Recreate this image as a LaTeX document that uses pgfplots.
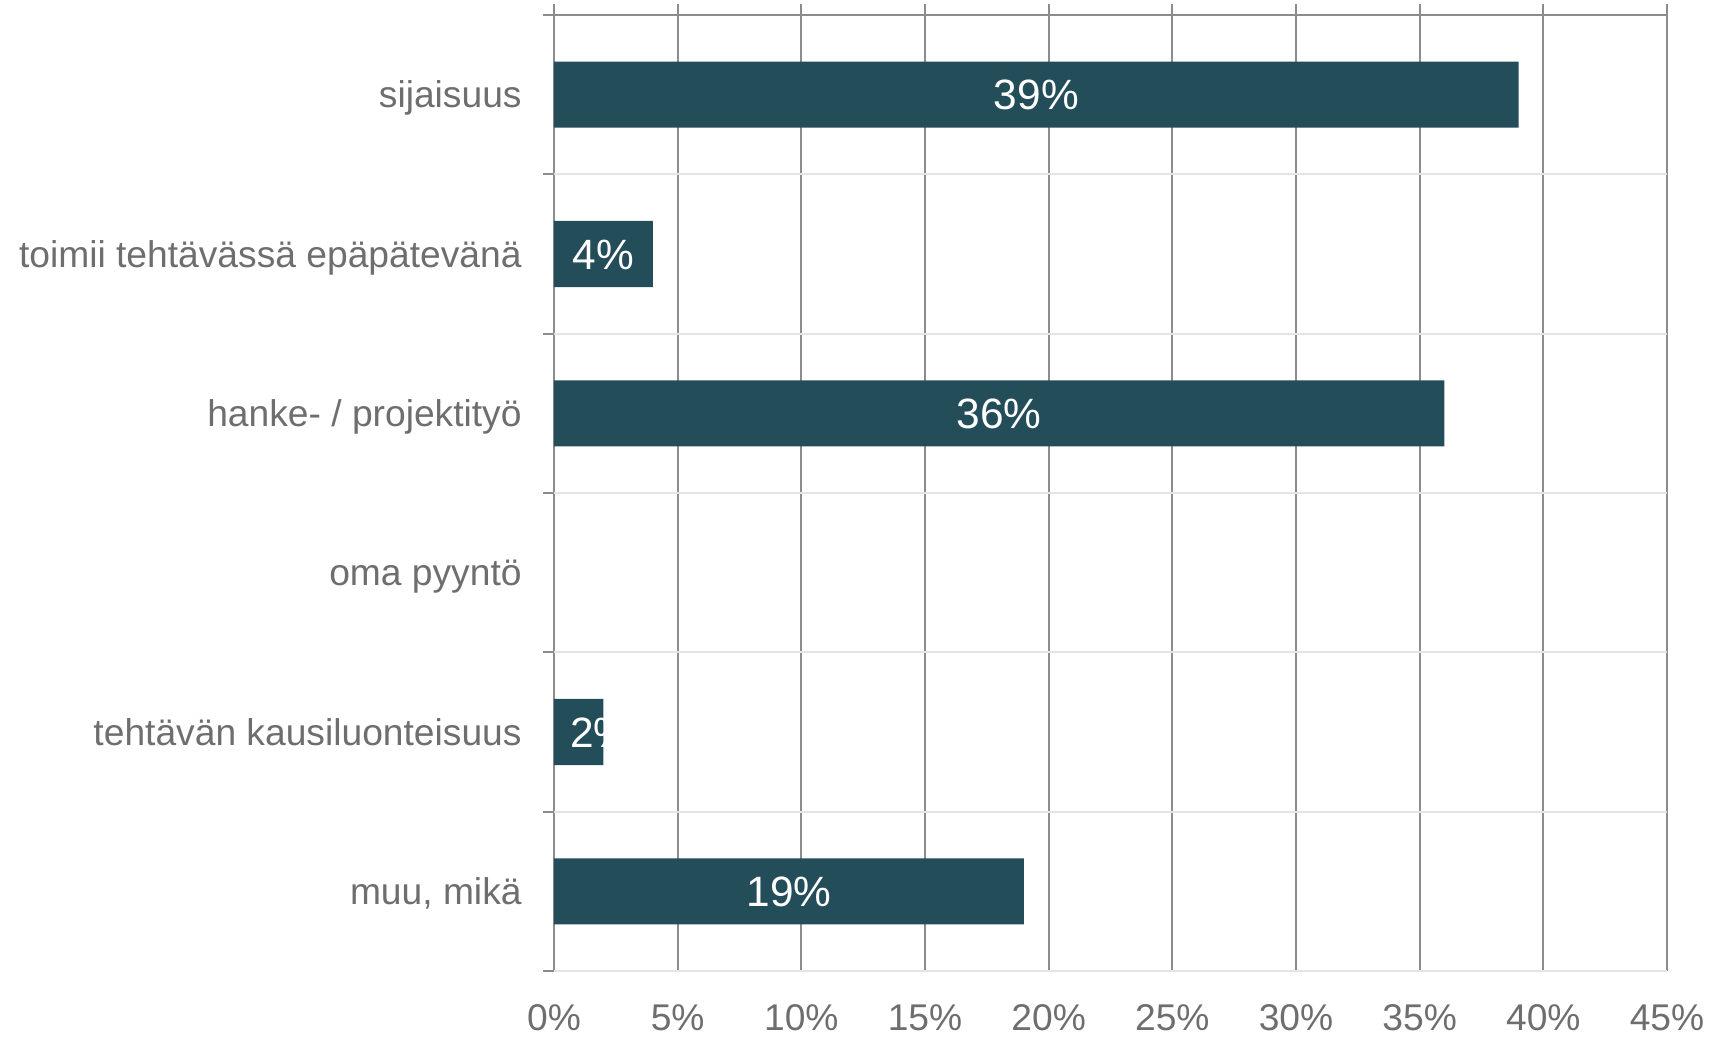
\documentclass[border=0pt]{standalone}
\usepackage{fontspec}
\setmainfont{Liberation Sans}
\usepackage{pgfplots}
\pgfplotsset{compat=1.18}
\definecolor{barc}{HTML}{234D59}
\definecolor{txt}{HTML}{6E6E6E}
\definecolor{gridd}{HTML}{8C8C8C}
\definecolor{gridl}{HTML}{E4E4E4}
\begin{document}
\begin{tikzpicture}
\begin{axis}[
  name=ax,
  scale only axis,
  width=556.5pt, height=483.5pt,
  xmin=0, xmax=45,
  ymin=-0.5, ymax=5.569,
  axis line style={draw=none},
  /pgf/number format/assume math mode=true,
  xtick={0,5,...,45},
  xticklabels={0\%,5\%,10\%,15\%,20\%,25\%,30\%,35\%,40\%,45\%},
  xmajorgrids,
  major grid style={gridd, line width=1pt},
  major tick length=0pt,
  ytick pos=left,
  ytick={0,...,5},
  yticklabels={{muu, mikä}, {tehtävän kausiluonteisuus}, {oma pyyntö}, {hanke- / projektityö}, {toimii tehtävässä epäpätevänä}, {sijaisuus}},
  xticklabel style={anchor=north, inner sep=0pt, yshift=-16.5pt, font=\fontsize{18.6}{22}\selectfont, text=txt},
  yticklabel style={anchor=base east, inner sep=0pt, xshift=-16pt, yshift=-6.6pt, font=\fontsize{18.6}{22}\selectfont, text=txt},
  extra y ticks={-0.5,0.5,1.5,2.5,3.5,4.5,5.5},
  extra y tick labels={},
  extra y tick style={
    ymajorgrids=true,
    major grid style={gridl, line width=1pt},
    major tick length=5.5pt,
    tick align=outside,
    ytick pos=left,
    tick style={gridd, line width=1pt},
  },
  clip=false,
]
\addplot[xbar, fill=barc, draw=none, bar width=0.415]
  coordinates {(39,5) (4,4) (36,3) (2,1) (19,0)};
\addplot[draw=none, mark=none, nodes near coords, point meta=explicit symbolic,
  nodes near coords style={white, anchor=base, inner sep=0pt, yshift=-7.6pt,
    font=\fontsize{21.2}{25}\selectfont}]
  coordinates {(19.5,5)[39\%] (2,4)[4\%] (18,3)[36\%] (9.5,0)[19\%]};
\draw[gridd, line width=1pt] (axis cs:0,5.5) -- (axis cs:45,5.5);
\coordinate (c2a) at (axis cs:0,0.7925);
\coordinate (c2b) at (axis cs:2,1.2075);
\coordinate (c2l) at (axis cs:1.9,1);
\end{axis}
\begin{scope}
  \clip (c2a) rectangle (c2b);
  \node[white, anchor=base, inner sep=0pt, yshift=-7.6pt, font=\fontsize{21.2}{25}\selectfont] at (c2l) {2\%};
\end{scope}
\pgfresetboundingbox
\path ([xshift=-277pt, yshift=-32.5pt]ax.south west) rectangle ([xshift=21pt, yshift=2pt]ax.north east);
\end{tikzpicture}
\end{document}
